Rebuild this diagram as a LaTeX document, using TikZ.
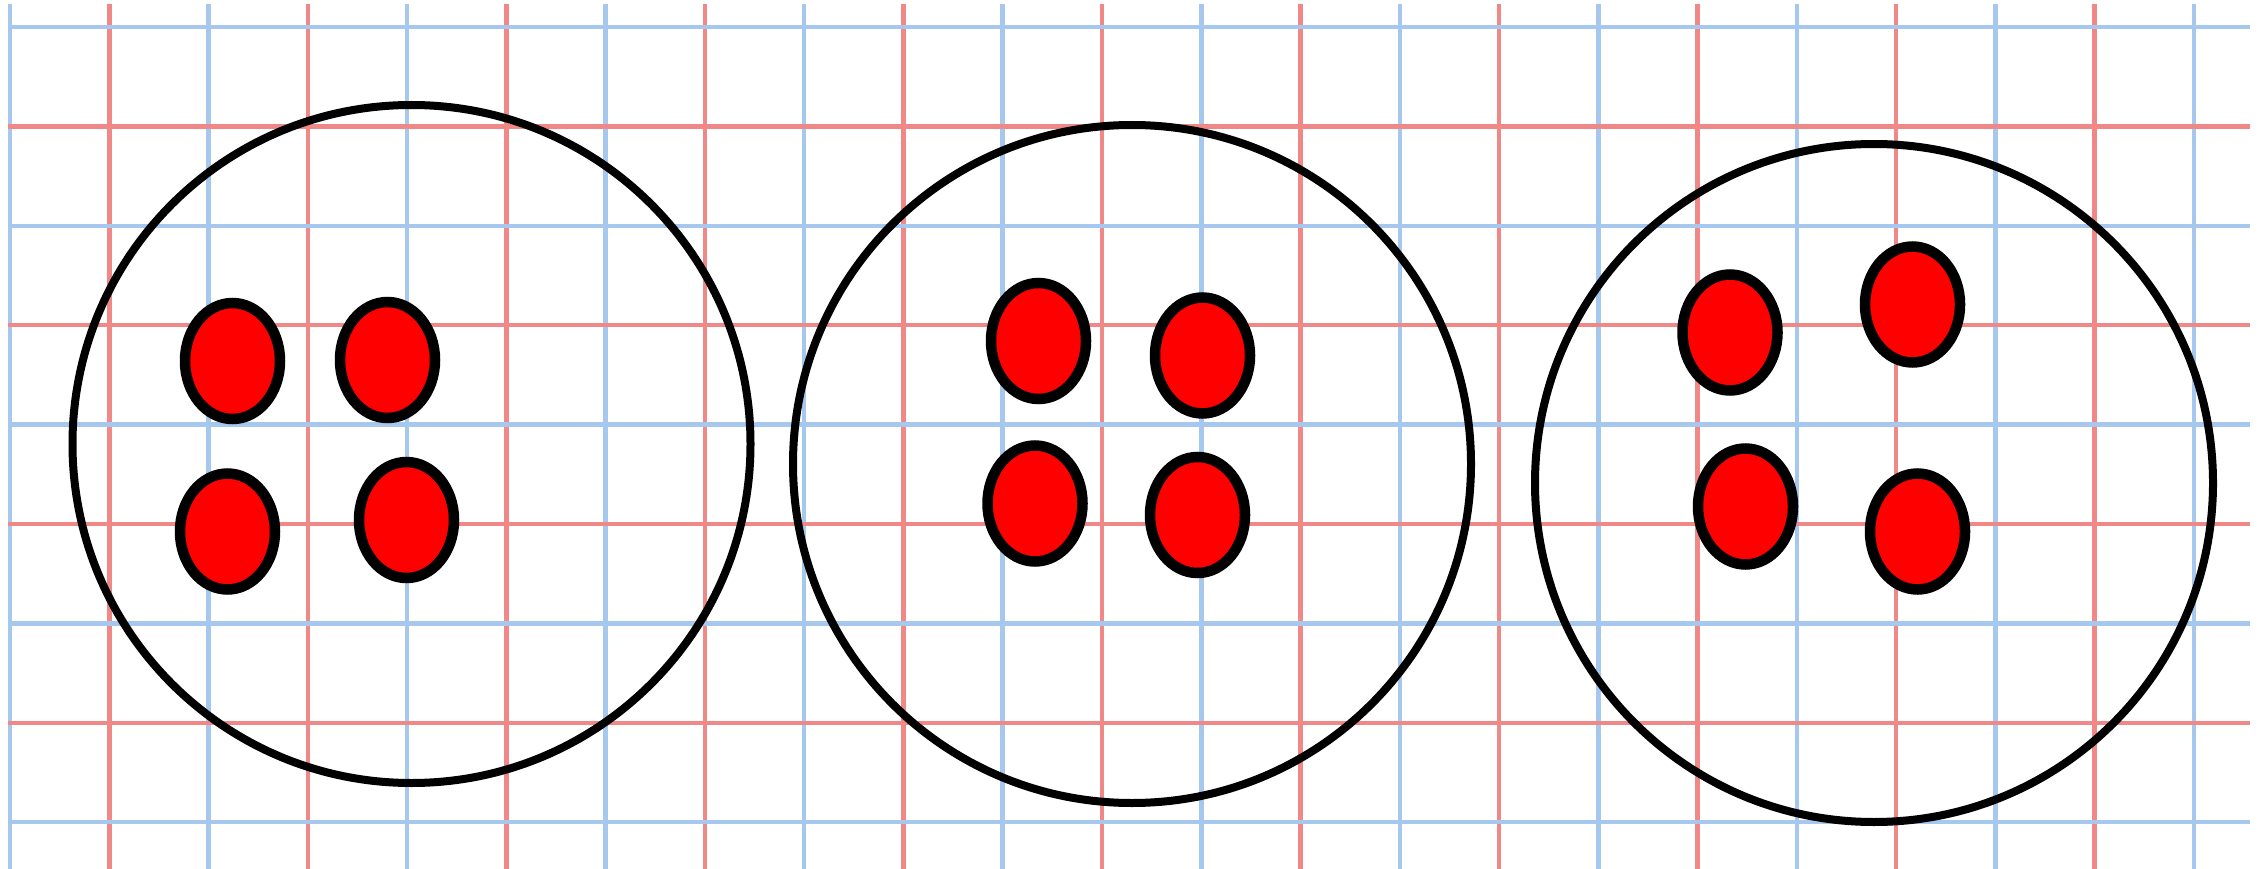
\documentclass[tikz,border=0pt]{standalone}
\usetikzlibrary{shapes.geometric}
\definecolor{gridblue}{RGB}{166,200,238}
\definecolor{gridred}{RGB}{240,136,136}
\definecolor{dotred}{RGB}{255,0,0}
\begin{document}
\begin{tikzpicture}[x=1pt,y=-1pt,
  bigcirc/.style={circle,draw=black,line width=8pt,minimum size=678pt,inner sep=0pt},
  dot/.style={ellipse,draw=black,fill=dotred,line width=10.5pt,minimum width=95pt,minimum height=116pt,inner sep=0pt},
  vline/.style={line width=4.5pt},
  hline/.style={line width=4.5pt}]
\useasboundingbox[fill=white] (0,0) rectangle (2267,869);
% vertical grid lines
\foreach \k in {0,...,22}{
  \pgfmathsetmacro{\xx}{10+99.27*\k}
  \pgfmathparse{mod(\k,2)==0?1:0}
  \ifnum\pgfmathresult=1
    \draw[vline,gridblue] (\xx,4) -- (\xx,869);
  \else
    \draw[vline,gridred] (\xx,4) -- (\xx,869);
  \fi
}
% horizontal grid lines
\foreach \k in {0,...,8}{
  \pgfmathsetmacro{\yy}{27+99.4*\k}
  \pgfmathparse{mod(\k,2)==0?1:0}
  \ifnum\pgfmathresult=1
    \draw[hline,gridblue] (8,\yy) -- (2250,\yy);
  \else
    \draw[hline,gridred] (8,\yy) -- (2250,\yy);
  \fi
}
% big circles
\node[bigcirc] (c1) at (411.5,444) {};
\node[bigcirc] (c2) at (1132,464) {};
\node[bigcirc] (c3) at (1874,483) {};
% dots in circle 1
\node[dot] (a1) at (232.5,361) {};
\node[dot] (a2) at (387.5,360) {};
\node[dot] (a3) at (227.5,531.5) {};
\node[dot] (a4) at (406.5,520) {};
% dots in circle 2
\node[dot] (b1) at (1038.5,341) {};
\node[dot] (b2) at (1202.5,355.5) {};
\node[dot] (b3) at (1035,503.5) {};
\node[dot] (b4) at (1197.5,515) {};
% dots in circle 3
\node[dot] (d1) at (1730,332.5) {};
\node[dot] (d2) at (1912.5,304.5) {};
\node[dot] (d3) at (1745.5,506.5) {};
\node[dot] (d4) at (1917.5,531.5) {};
\end{tikzpicture}
\end{document}
